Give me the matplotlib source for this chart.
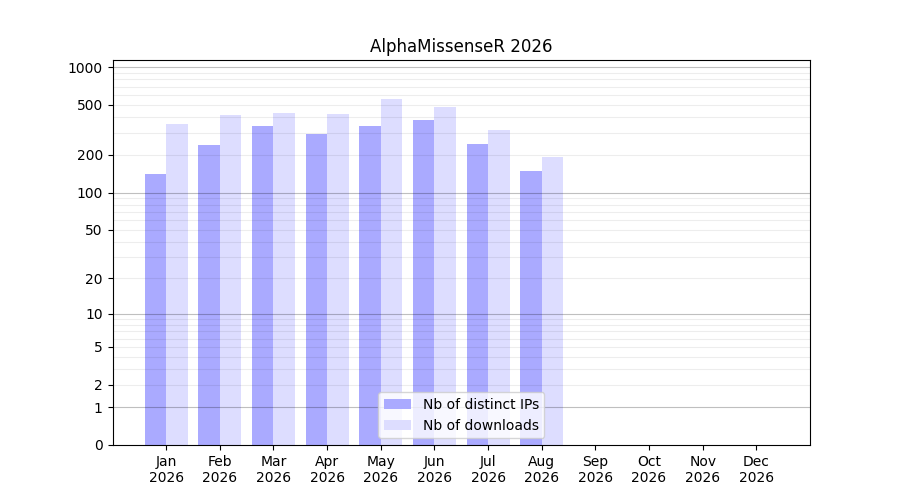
import numpy as np
import matplotlib
matplotlib.use("Agg")
import matplotlib.pyplot as plt

months = ["Jan", "Feb", "Mar", "Apr", "May", "Jun", "Jul", "Aug", "Sep", "Oct", "Nov", "Dec"]
year = 2026
distinct_ips = [141, 240, 339, 293, 339, 379, 244, 149, 0, 0, 0, 0]
downloads = [352, 415, 431, 423, 556, 481, 315, 192, 0, 0, 0, 0]

major_ticks = [0, 1, 2, 5, 10, 20, 50, 100, 200, 500, 1000]
dark_grid = [1, 10, 100, 1000]
light_grid = [2, 3, 4, 5, 6, 7, 8, 9, 20, 30, 40, 50, 60, 70, 80, 90,
              200, 300, 400, 500, 600, 700, 800, 900]


def fwd(v):
    return np.log10(1 + np.clip(v, 0, None))


def inv(v):
    return 10 ** v - 1


fig, ax = plt.subplots(figsize=(9, 5), dpi=100)
ax.set_yscale("function", functions=(fwd, inv))

x = np.arange(len(months))
w = 0.4
ax.bar(x - w / 2, distinct_ips, width=w, color="#aaaaff", label="Nb of distinct IPs", zorder=1)
ax.bar(x + w / 2, downloads, width=w, color="#ddddff", label="Nb of downloads", zorder=1)

# grid lines (log(1+x) scale), translucent so they tint the bars
for g in light_grid:
    ax.axhline(g, color=(0, 0, 0, 0.07), linewidth=0.8, zorder=1.5)
for g in dark_grid:
    ax.axhline(g, color=(0, 0, 0, 0.25), linewidth=0.8, zorder=1.5)

ax.set_yticks(major_ticks)
ax.set_yticklabels([str(t) for t in major_ticks])
ax.minorticks_off()
ax.set_ylim(0, 1137)
ax.set_xlim(-1, 12)
ax.set_xticks(x)
ax.set_xticklabels([f"{m}\n{year}" for m in months])

ax.set_title(f"AlphaMissenseR {year}")
ax.legend(loc="lower center")

fig.savefig("out.png", dpi=100)
